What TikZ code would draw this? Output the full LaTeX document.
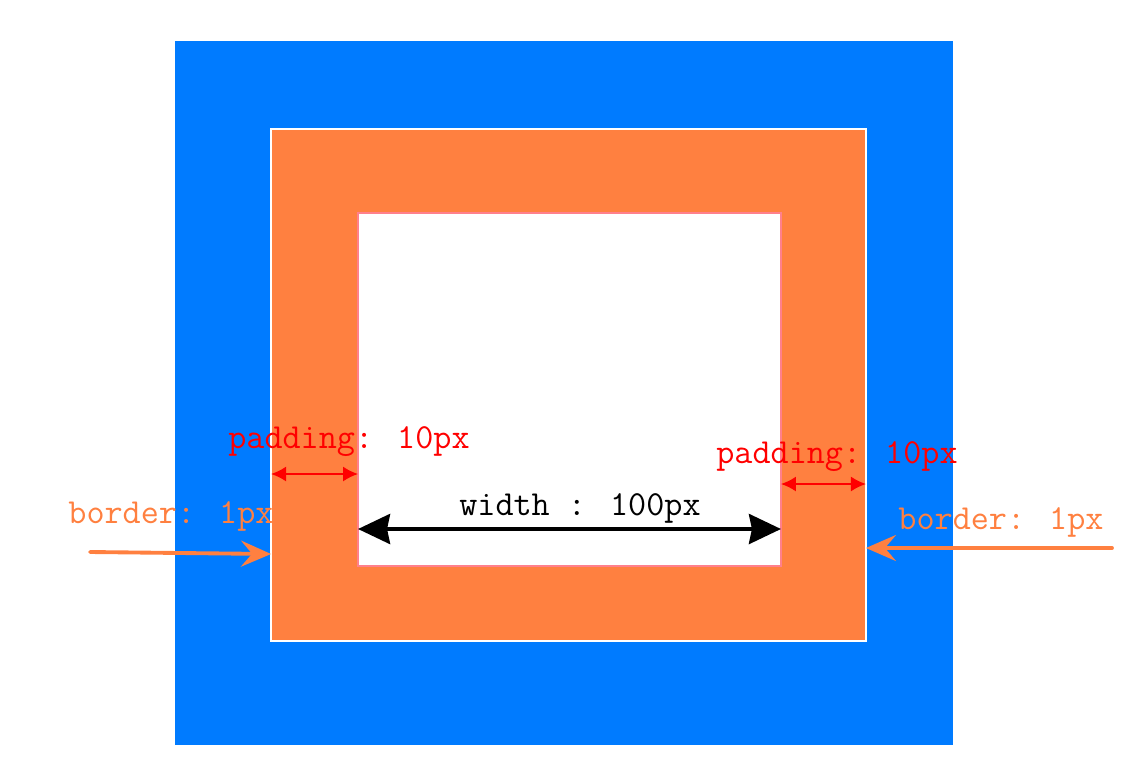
\documentclass[tikz,border=0pt]{standalone}
\usepackage{fontspec}
\usetikzlibrary{arrows.meta,positioning,calc}
\definecolor{marginblue}{RGB}{0,123,255}
\definecolor{padorange}{RGB}{255,128,64}
\definecolor{edgepink}{RGB}{255,128,140}

\begin{document}
\begin{tikzpicture}[
    x=0.02cm, y=-0.02cm,
    area/.style={rectangle, inner sep=0pt, outer sep=0pt},
    label/.style={font=\ttfamily\fontsize{20}{22}\selectfont, inner sep=0pt},
    padarr/.style={{Latex[length=3mm,width=3mm]}-{Latex[length=3mm,width=3mm]}, red, line width=1pt},
    widtharr/.style={{Stealth[length=6.4mm,width=6mm,inset=0.6mm]}-{Stealth[length=6.4mm,width=6mm,inset=0.6mm]}, black, line width=2.2pt},
    borderarr/.style={-{Stealth[length=6mm,width=5.2mm,inset=2.2mm]}, padorange, line width=2.2pt, line cap=round},
]
\useasboundingbox (0,0) rectangle (1126,768);

% Nested boxes
\node[area, fill=marginblue, minimum width=15.56cm, minimum height=14.08cm] (margin) at (564,393) {};
\node[area, fill=padorange, draw=white, line width=1.2pt, minimum width=11.9cm, minimum height=10.24cm] (border) at (568.5,385) {};
\node[area, fill=white, draw=edgepink, line width=0.8pt, minimum width=8.46cm, minimum height=7.06cm] (content) at (569.5,389.5) {};

% Labels
\node[label, red] (padL) at (349,442) {padding: 10px};
\node[label, red] (padR) at (837,457) {padding: 10px};
\node[label, black] (width) at (580,508) {width : 100px};
\node[label, padorange] (bordL) at (171,516) {border: 1px};
\node[label, padorange] (bordR) at (1001,522) {border: 1px};

% Arrow ends
\coordinate (startL) at (90,552);
\coordinate (startR) at (1112,548);

% Arrows
\draw[padarr] (border.west |- 0,474) -- (content.west |- 0,474);
\draw[padarr] (content.east |- 0,484) -- (border.east |- 0,484);
\draw[widtharr] (content.west |- 0,529) -- (content.east |- 0,529);
\draw[borderarr] (startL) -- (border.west |- 0,554);
\draw[borderarr] (startR) -- (border.east |- 0,548);

\end{tikzpicture}
\end{document}
